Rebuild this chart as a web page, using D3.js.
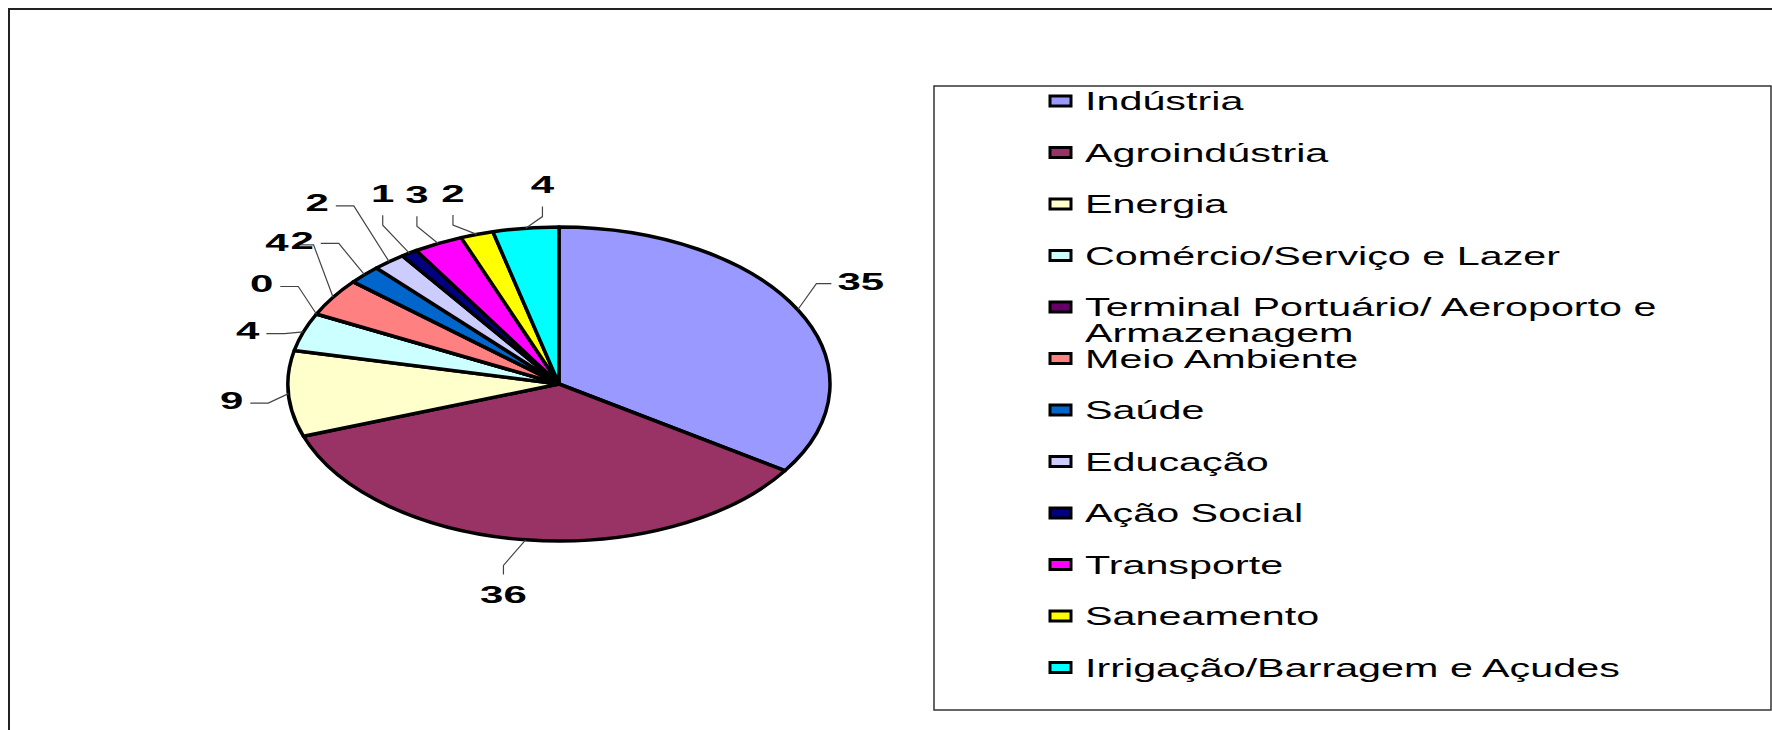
<!DOCTYPE html>
<html>
<head>
<meta charset="utf-8">
<script src="https://cdn.jsdelivr.net/npm/d3@7"></script>
<style>
  body { margin: 0; background: #fff; }
  text { font-family: "Liberation Sans", Arial, sans-serif; }
</style>
</head>
<body>
<svg id="chart" width="1772" height="730"></svg>
<script>
// data
const categories = ['Indústria', 'Agroindústria', 'Energia', 'Comércio/Serviço e Lazer',
  'Terminal Portuário/ Aeroporto e Armazenagem', 'Meio Ambiente', 'Saúde', 'Educação',
  'Ação Social', 'Transporte', 'Saneamento', 'Irrigação/Barragem e Açudes'];
const values = [35, 36, 9, 4, 0, 4, 2, 2, 1, 3, 2, 4];
const colors = ['#9999FF', '#993366', '#FFFFCC', '#CCFFFF', '#660066', '#FF8080',
  '#0066CC', '#CCCCFF', '#000080', '#FF00FF', '#FFFF00', '#00FFFF'];

// label layout (Excel spreads the crowded ones out)
const labelShift = [[11,-2], [-15,0], [2,3], [0,17], [-2,-6], [-7,-25], [-20,4], [-35,-16], [6,-14], [5,0], [-6,11], [24,11]];
const leaderMode = ['right', 'below', 'left', 'left', 'left', 'left', 'left', 'left', 'up', 'up', 'up', 'up'];

const svg = d3.select('#chart');
const CX = 559, CY = 384, RX = 271, RY = 157;
const LRX = 330, LRY = 212;
const LABEL_SX = 1.75, LEGEND_SX = 1.62; // the original chart was stretched sideways, text too

// chart area border
svg.append('rect')
  .attr('x', 9).attr('y', 9)
  .attr('width', 1800).attr('height', 800)
  .attr('fill', 'none')
  .attr('stroke', '#222')
  .attr('stroke-width', 2);

var data = categories.map(function(c, i) {
  return { name: c, value: values[i], color: colors[i] };
});

var pie = d3.pie().sort(null).value(function(d) { return d.value; });
var arcs = pie(data);
var arc = d3.arc().innerRadius(0).outerRadius(RY);

var pieG = svg.append('g')
  .attr('transform', 'translate(' + CX + ',' + CY + ') scale(' + (RX / RY) + ',1)');

pieG.selectAll('path')
  .data(arcs)
  .enter()
  .append('path')
  .attr('d', arc)
  .attr('fill', function(d) { return d.data.color; })
  .attr('stroke', '#000')
  .attr('stroke-width', 3.5)
  .attr('stroke-linejoin', 'round')
  .attr('vector-effect', 'non-scaling-stroke');

function onEllipse(a, rx, ry) {
  return [CX + rx * Math.sin(a), CY - ry * Math.cos(a)];
}

// labels with leader lines
var labels = svg.append('g');
arcs.forEach(function(d, i) {
  var mid = (d.startAngle + d.endAngle) / 2;
  var anchor = onEllipse(mid, RX, RY);
  var pos = onEllipse(mid, LRX, LRY);
  var tx = pos[0] + labelShift[i][0];
  var ty = pos[1] + labelShift[i][1];

  var t = labels.append('g')
    .attr('transform', 'translate(' + tx + ',' + ty + ') scale(' + LABEL_SX + ',1)')
    .append('text')
    .attr('dy', '0.36em')
    .attr('text-anchor', 'middle')
    .style('font-size', '24px')
    .style('font-weight', 'bold')
    .text(d.data.value);
  var hw = t.node().getComputedTextLength() * LABEL_SX / 2;

  var end, elbow;
  if (leaderMode[i] == 'right') {
    end = [tx - hw - 6, ty + 2]; elbow = [end[0] - 15, end[1]];
  }
  else if (leaderMode[i] == 'left') {
    end = [tx + hw + 7, ty + 3]; elbow = [end[0] + 18, end[1]];
  }
  else if (leaderMode[i] == 'up') {
    end = [tx, ty + 22]; elbow = [tx, ty + 32];
  }
  else {
    end = [tx, ty - 20]; elbow = [tx, ty - 29];
  }
  labels.append('polyline')
    .attr('points', [anchor, elbow, end].map(function(p) { return p.join(','); }).join(' '))
    .attr('fill', 'none')
    .attr('stroke', '#444')
    .attr('stroke-width', 1.2);
});

// legend
var legend = svg.append('g');
legend.append('rect')
  .attr('x', 934).attr('y', 86)
  .attr('width', 837).attr('height', 624)
  .attr('fill', '#fff')
  .attr('stroke', '#333')
  .attr('stroke-width', 1.5);

var ROW0 = 110, ROWH = 51.5;
var item = legend.selectAll('g.item')
  .data(data)
  .enter()
  .append('g')
  .attr('class', 'item')
  .attr('transform', function(d, i) { return 'translate(0,' + (ROW0 + i * ROWH) + ')'; });

item.append('rect')
  .attr('x', 1050).attr('y', -14)
  .attr('width', 21).attr('height', 10)
  .attr('fill', function(d) { return d.color; })
  .attr('stroke', '#000')
  .attr('stroke-width', 3);

item.append('g')
  .attr('transform', 'translate(1085,0) scale(' + LEGEND_SX + ',1)')
  .append('text')
  .style('font-size', '25.5px')
  .each(function(d) {
    var el = d3.select(this);
    if (d.name.indexOf('Armazenagem') >= 0) {
      el.append('tspan').attr('x', 0).attr('y', 0).text('Terminal Portuário/ Aeroporto e');
      el.append('tspan').attr('x', 0).attr('y', 26).text('Armazenagem');
    }
    else {
      el.text(d.name);
    }
  });
</script>
</body>
</html>
